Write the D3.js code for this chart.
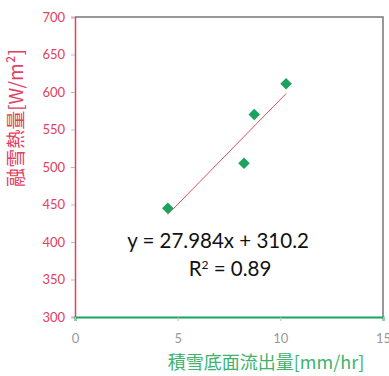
<!DOCTYPE html>
<html>
<head>
<meta charset="utf-8">
<script src="https://cdn.jsdelivr.net/npm/d3@7"></script>
<style>
  body { margin: 0; background: #fff; }
  svg { display: block; }
</style>
</head>
<body>
<svg id="chart" width="389" height="376"></svg>
<script>
// flow (mm/hr) vs melt heat (W/m2)
const flowValues = [4.52, 8.23, 8.73, 10.28];
const heatValues = [445, 505, 570, 611];
const xTicks = [0, 5, 10, 15];
const yTicks = [300, 350, 400, 450, 500, 550, 600, 650, 700];
const fitSlope = 27.984, fitIntercept = 310.2;
const eqLabel = "y = 27.984x + 310.2";
const r2Value = "0.89";

const margin = {top: 17, right: 6, bottom: 59, left: 75},
      width = 389 - margin.left - margin.right,
      height = 376 - margin.top - margin.bottom;

const red = "#e2405f", green = "#19a35f", font = "Lato, 'Open Sans', sans-serif";

const svg = d3.select("#chart");
const g = svg.append("g").attr("transform", `translate(${margin.left},${margin.top})`);

const x = d3.scaleLinear().domain([0, 15]).range([0, width]);
const y = d3.scaleLinear().domain([300, 700]).range([height, 0]);

// frame top/right
g.append("path")
  .attr("d", `M0,0H${width}V${height}`)
  .attr("fill", "none").attr("stroke", "#777").attr("stroke-width", 1.5);

// y axis
const yAxis = g.append("g").call(d3.axisLeft(y).tickValues(yTicks).tickSize(4).tickPadding(6));
yAxis.select(".domain").attr("stroke", red).attr("stroke-width", 1.5);
yAxis.selectAll(".tick line").attr("stroke", "#bbb");
yAxis.selectAll(".tick text").attr("fill", red).style("font-family", font).style("font-size", "13px");

// x axis
const xAxis = g.append("g").attr("transform", `translate(0,${height})`)
  .call(d3.axisBottom(x).tickValues(xTicks).tickSize(4).tickPadding(13));
xAxis.select(".domain").attr("stroke", green).attr("stroke-width", 2);
xAxis.selectAll(".tick line").attr("stroke", "#bbb");
xAxis.selectAll(".tick text").attr("fill", "#999").style("font-family", font).style("font-size", "13px");

// trend line
const xr = d3.extent(flowValues);
g.append("line")
  .attr("x1", x(xr[0])).attr("y1", y(fitSlope * xr[0] + fitIntercept))
  .attr("x2", x(xr[1])).attr("y2", y(fitSlope * xr[1] + fitIntercept))
  .attr("stroke", "#e05060").attr("stroke-width", 1);

// markers
g.selectAll(".pt").data(flowValues).join("path")
  .attr("class", "pt")
  .attr("d", d3.symbol(d3.symbolDiamond2, 85))
  .attr("transform", (d, i) => `translate(${x(d)},${y(heatValues[i])})`)
  .attr("fill", green);

// equation
const eq = g.append("text").attr("text-anchor", "middle")
  .style("font-family", font).style("font-size", "20.5px").attr("fill", "#111");
eq.append("tspan").attr("x", 143).attr("y", 231).text(eqLabel);
const r2 = eq.append("tspan").attr("x", 155).attr("y", 259);
r2.append("tspan").text("R");
r2.append("tspan").attr("dy", -7).style("font-size", "12px").text("2");
r2.append("tspan").attr("dy", 7).text(" = " + r2Value);

// axis titles
svg.append("text")
  .attr("transform", "translate(23,118) rotate(-90)")
  .attr("text-anchor", "middle")
  .style("font-family", "'Noto Sans CJK JP', sans-serif").style("font-size", "19px")
  .attr("fill", red)
  .text("融雪熱量[W/m²]");

svg.append("text")
  .attr("x", 266).attr("y", 369).attr("text-anchor", "middle")
  .style("font-family", "'Noto Sans CJK JP', sans-serif").style("font-size", "18px")
  .attr("fill", "#3db36c")
  .text("積雪底面流出量[mm/hr]");
</script>
</body>
</html>
